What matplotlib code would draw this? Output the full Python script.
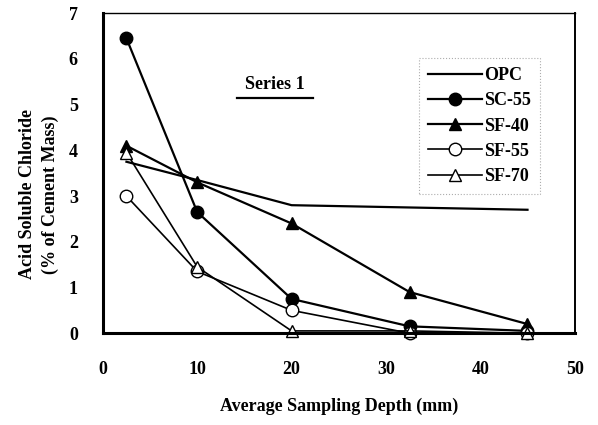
import matplotlib
matplotlib.use("Agg")
import matplotlib.pyplot as plt

depth = [2.5, 10, 20, 32.5, 45]
opc = [3.75, 3.35, 2.8, 2.75, 2.7]
sc55 = [6.45, 2.65, 0.75, 0.15, 0.05]
sf40 = [4.1, 3.3, 2.4, 0.9, 0.2]
sf55 = [3.0, 1.35, 0.5, 0.0, 0.0]
sf70 = [3.95, 1.45, 0.05, 0.05, 0.0]

plt.rcParams['font.family'] = 'Liberation Serif'
plt.rcParams['font.weight'] = 'bold'

fig = plt.figure(figsize=(5.98, 4.25), dpi=100)
ax = fig.add_axes([0.172, 0.216, 0.789, 0.753])

ax.plot(depth, opc, color='black', lw=1.6, label='OPC')
ax.plot(depth, sc55, color='black', lw=1.6, marker='o', ms=9,
        mfc='black', mec='black', label='SC-55')
ax.plot(depth, sf40, color='black', lw=1.6, marker='^', ms=9,
        mfc='black', mec='black', label='SF-40')
ax.plot(depth, sf55, color='black', lw=1.2, marker='o', ms=9,
        mfc='white', mec='black', mew=1.0, label='SF-55')
ax.plot(depth, sf70, color='black', lw=1.2, marker='^', ms=9,
        mfc='white', mec='black', mew=1.0, label='SF-70')

ax.set_xlim(0, 50)
ax.set_ylim(0, 7)
ax.set_xticks(range(0, 51, 10))
ax.set_yticks(range(0, 8))
ax.tick_params(length=0, labelsize=13)
ax.tick_params(axis='x', pad=20)
ax.tick_params(axis='y', pad=18)
ax.spines['top'].set_linewidth(1.0)
ax.spines['right'].set_linewidth(1.4)
for s in ['left', 'bottom']:
    ax.spines[s].set_linewidth(2.2)
for l in ax.lines:
    l.set_clip_on(False)

ax.set_xlabel('Average Sampling Depth (mm)', fontsize=13, fontweight='bold',
              labelpad=14)
ax.set_ylabel('Acid Soluble Chloride\n(% of Cement Mass)', fontsize=13,
              fontweight='bold', linespacing=1.4)
ax.yaxis.set_label_coords(-0.094, 0.434)

ax.text(0.364, 0.75, 'Series 1', transform=ax.transAxes, fontsize=13,
        fontweight='bold', ha='center', va='bottom')
ax.plot([0.284, 0.445], [0.734, 0.734], transform=ax.transAxes,
        color='black', lw=1.6)

leg = ax.legend(loc='upper right', bbox_to_anchor=(0.926, 0.859), fontsize=13,
                frameon=True, fancybox=False, handlelength=3.0,
                handletextpad=0.1, borderpad=0.5, labelspacing=0.45,
                borderaxespad=0)
leg.get_frame().set_edgecolor('#999999')
leg.get_frame().set_linestyle(':')
leg.get_frame().set_linewidth(0.8)

fig.savefig('out.png', dpi=100)
